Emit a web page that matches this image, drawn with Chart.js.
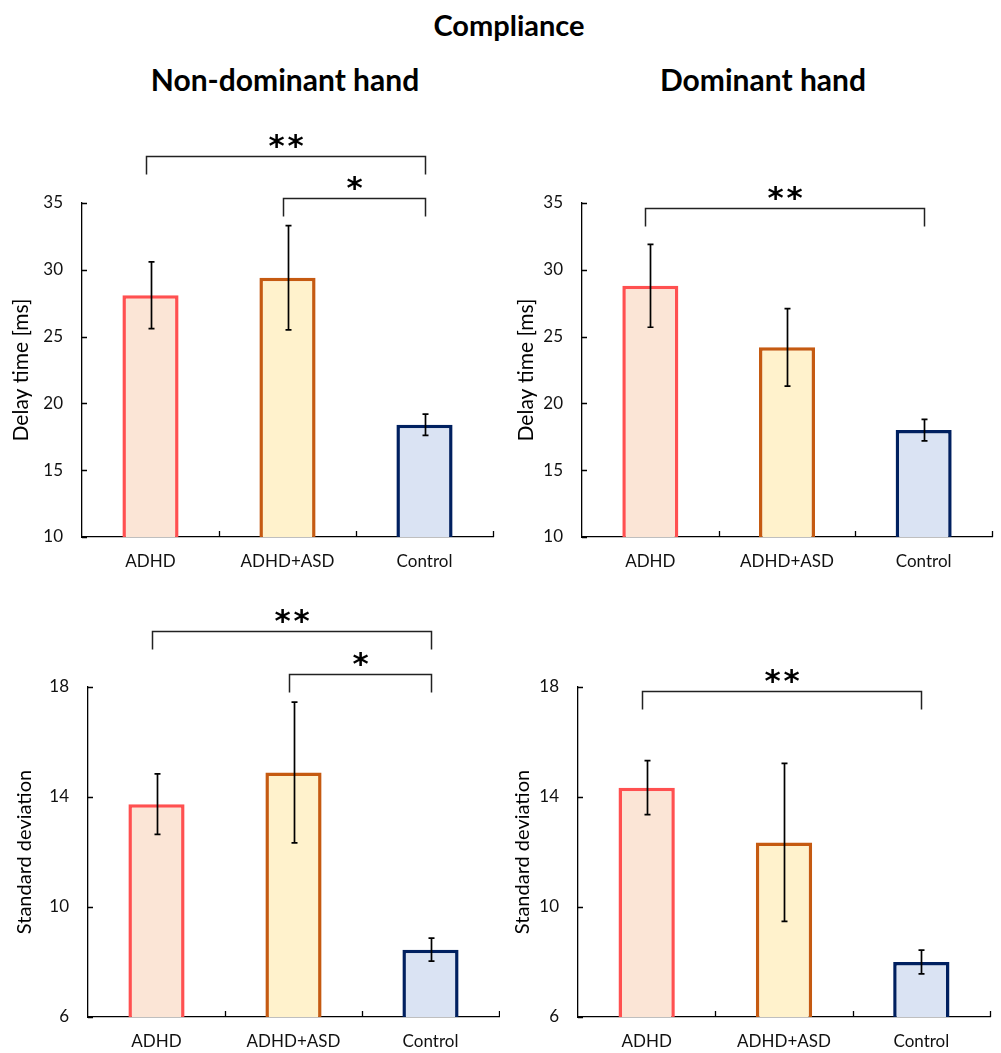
<!DOCTYPE html>
<html>
<head>
<meta charset="utf-8">
<script src="https://cdn.jsdelivr.net/npm/chart.js@4.4.1/dist/chart.umd.min.js"></script>
<style>
body { margin: 0; background: #fff; }
#page { position: relative; width: 1001px; height: 1053px; font-family: Lato, sans-serif; }
.t { position: absolute; font-weight: bold; color: #000; transform: translate(-50%, -50%); white-space: nowrap; }
canvas { position: absolute; }
</style>
</head>
<body>
<div id="page">
  <div class="t" style="left:509px;top:24px;font-size:29px">Compliance</div>
  <div class="t" style="left:285px;top:79px;font-size:30px">Non-dominant hand</div>
  <div class="t" style="left:763px;top:79px;font-size:30px">Dominant hand</div>
  <canvas id="c1" width="500" height="480" style="left:0;top:100px"></canvas>
  <canvas id="c2" width="501" height="480" style="left:500px;top:100px"></canvas>
  <canvas id="c3" width="500" height="473" style="left:0;top:580px"></canvas>
  <canvas id="c4" width="501" height="473" style="left:500px;top:580px"></canvas>
</div>
<script>
const groups = ['ADHD', 'ADHD+ASD', 'Control'];

// delay time [ms]
const delayNonDom = [28.1, 29.4, 18.4];
const delayNonDomErr = [2.5, 3.9, 0.8];
const delayDom = [28.8, 24.2, 18.0];
const delayDomErr = [3.1, 2.9, 0.8];

// standard deviation
const sdNonDom = [13.74, 14.89, 8.45];
const sdNonDomErr = [1.1, 2.56, 0.42];
const sdDom = [14.34, 12.35, 8.0];
const sdDomErr = [0.98, 2.87, 0.43];

const delayTicks = [10, 15, 20, 25, 30, 35];
const sdTicks = [6, 10, 14, 18];

// significance brackets: groups compared, level (axis units), marker
const bracketsDelayNonDom = [
    { from: 0, to: 2, level: 38.5, mark: '**' },
    { from: 1, to: 2, level: 35.4, mark: '*' }
];
const bracketsDelayDom = [
    { from: 0, to: 2, level: 34.6, mark: '**' }
];
const bracketsSdNonDom = [
    { from: 0, to: 2, level: 20.05, mark: '**' },
    { from: 1, to: 2, level: 18.47, mark: '*' }
];
const bracketsSdDom = [
    { from: 0, to: 2, level: 17.84, mark: '**' }
];

const fills = ['#FBE5D6', '#FFF2CC', '#DAE3F3'];
const borders = ['#FF5050', '#C55A11', '#002060'];
const FONT = 'Lato, sans-serif';

function extras(err, brackets) {
    return {
        id: 'extras',
        afterDatasetsDraw(chart) {
            const ctx = chart.ctx;
            const x = chart.scales.x, y = chart.scales.y, area = chart.chartArea;
            ctx.save();
            ctx.strokeStyle = '#000';
            ctx.lineWidth = 1.3;

            // small inward tick marks
            ctx.beginPath();
            y.ticks.forEach(t => {
                const py = Math.round(y.getPixelForValue(t.value)) + 0.5;
                ctx.moveTo(area.left, py);
                ctx.lineTo(area.left + 5, py);
            });
            const step = (area.right - area.left) / groups.length;
            for (let i = 1; i <= groups.length; i++) {
                const px = Math.round(area.left + i * step) + 0.5;
                ctx.moveTo(px, area.bottom);
                ctx.lineTo(px, area.bottom - 6);
            }
            ctx.stroke();

            // error bars
            const vals = chart.data.datasets[0].data;
            ctx.lineWidth = 1.7;
            ctx.beginPath();
            vals.forEach((v, i) => {
                const px = Math.round(x.getPixelForValue(i)) + 0.5;
                const top = y.getPixelForValue(v + err[i]);
                const bot = y.getPixelForValue(v - err[i]);
                ctx.moveTo(px, top); ctx.lineTo(px, bot);
                ctx.moveTo(px - 3, top); ctx.lineTo(px + 3, top);
                ctx.moveTo(px - 3, bot); ctx.lineTo(px + 3, bot);
            });
            ctx.stroke();

            // significance brackets
            ctx.lineWidth = 1.5;
            ctx.strokeStyle = '#222';
            ctx.fillStyle = '#000';
            ctx.font = 'bold 31px "DejaVu Sans"';
            ctx.textAlign = 'center';
            brackets.forEach(b => {
                const x1 = Math.round(x.getPixelForValue(b.from)) - 4.5;
                const x2 = Math.round(x.getPixelForValue(b.to)) + 0.5;
                const py = Math.round(y.getPixelForValue(b.level)) + 0.5;
                ctx.beginPath();
                ctx.moveTo(x1, py + 18);
                ctx.lineTo(x1, py);
                ctx.lineTo(x2, py);
                ctx.lineTo(x2, py + 18);
                ctx.stroke();
                const m = ctx.measureText('*');
                const cy = py - 15;
                const base = cy + (m.actualBoundingBoxAscent - m.actualBoundingBoxDescent) / 2;
                const cx = (x1 + x2) / 2;
                const n = b.mark.length;
                for (let k = 0; k < n; k++) {
                    ctx.fillText('*', cx + (k - (n - 1) / 2) * 19, base);
                }
            });
            ctx.restore();
        }
    };
}

function makeChart(id, values, err, tickVals, yTitle, titleSize, brackets, pad, yWidth) {
    const ctx = document.getElementById(id).getContext('2d');
    return new Chart(ctx, {
        type: 'bar',
        data: {
            labels: groups,
            datasets: [{
                data: values,
                backgroundColor: fills,
                borderColor: borders,
                borderWidth: 3.5,
                borderSkipped: false,
                barPercentage: 0.41,
                categoryPercentage: 1.0
            }]
        },
        options: {
            responsive: false,
            animation: false,
            layout: { padding: pad },
            plugins: {
                legend: { display: false },
                tooltip: { enabled: false }
            },
            scales: {
                x: {
                    offset: true,
                    grid: { display: false, drawTicks: false },
                    border: { display: true, color: '#000', width: 1.3 },
                    ticks: { color: '#111', padding: 14, font: { family: FONT, size: 17 } },
                    afterFit: s => { s.height = 60; }
                },
                y: {
                    min: tickVals[0],
                    max: tickVals[tickVals.length - 1],
                    grid: { display: false, drawTicks: false },
                    border: { display: true, color: '#000', width: 1.3 },
                    ticks: { stepSize: tickVals[1] - tickVals[0], color: '#111', padding: 19, font: { family: FONT, size: 17 } },
                    title: { display: true, text: yTitle, color: '#000', padding: 0, font: { family: FONT, size: titleSize } },
                    afterFit: s => { s.width = yWidth; }
                }
            }
        },
        plugins: [extras(err, brackets)]
    });
}

makeChart('c1', delayNonDom, delayNonDomErr, delayTicks, 'Delay time [ms]', 21, bracketsDelayNonDom,
    { left: 9, right: 7, top: 103, bottom: 480 - 437 - 60 }, 73);
makeChart('c2', delayDom, delayDomErr, delayTicks, 'Delay time [ms]', 21, bracketsDelayDom,
    { left: 14, right: 9, top: 103, bottom: 480 - 437 - 60 }, 68);
makeChart('c3', sdNonDom, sdNonDomErr, sdTicks, 'Standard deviation', 20, bracketsSdNonDom,
    { left: 13, right: 1, top: 107, bottom: 473 - 437 - 60 }, 75);
makeChart('c4', sdDom, sdDomErr, sdTicks, 'Standard deviation', 20, bracketsSdDom,
    { left: 11, right: 11, top: 107, bottom: 473 - 437 - 60 }, 67);
</script>
</body>
</html>
